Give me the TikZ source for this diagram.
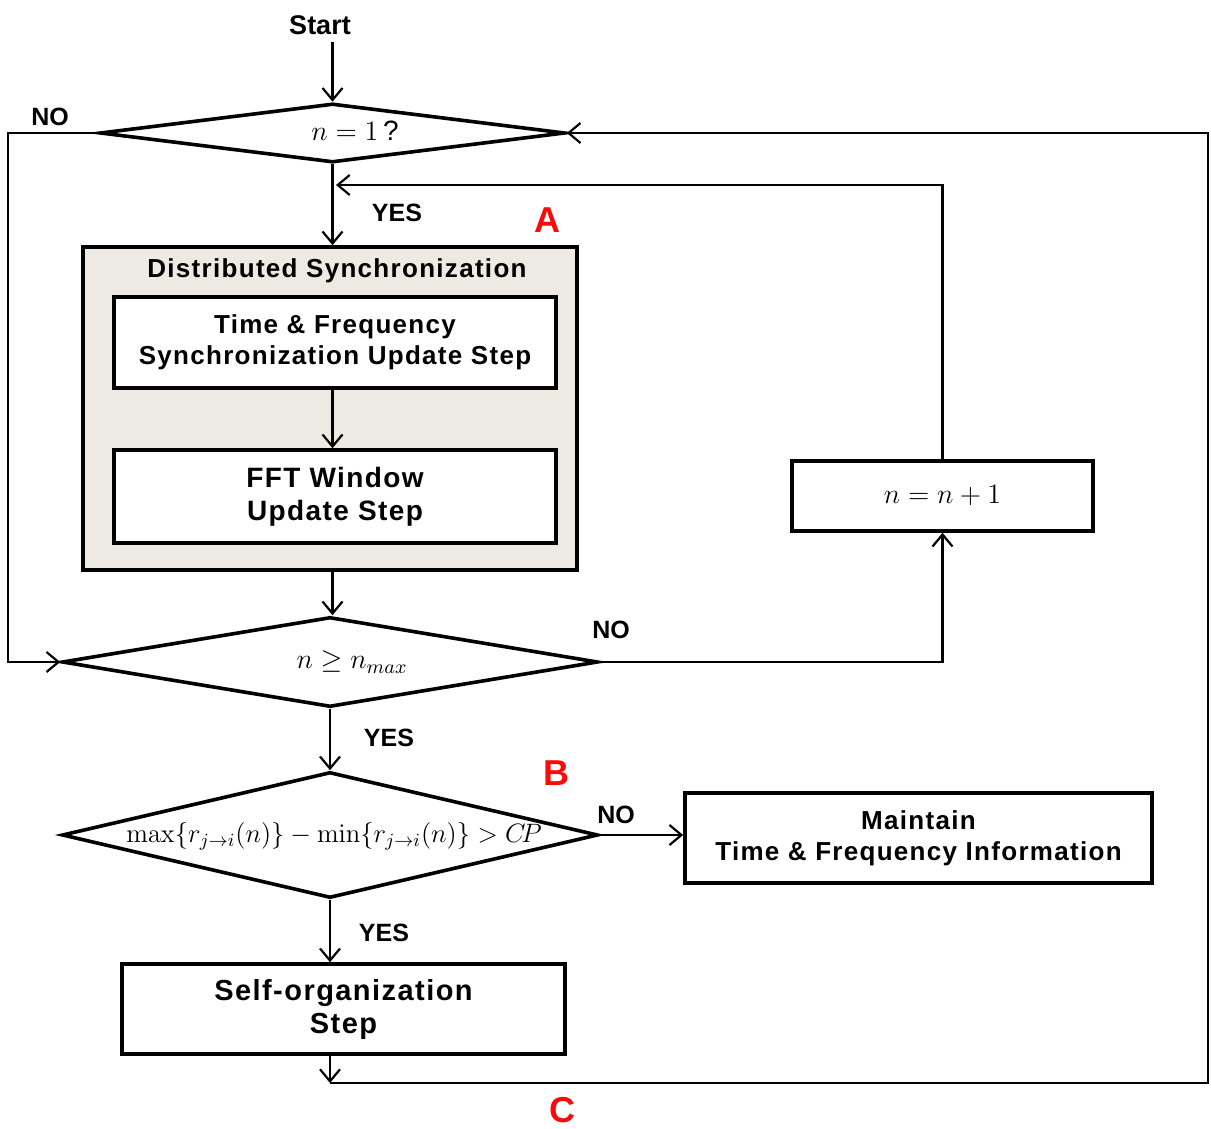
\RequirePackage{fix-cm}
\documentclass[tikz,border=0pt]{standalone}
\usepackage[no-math]{fontspec}
\setmainfont{Liberation Sans}
\newfontfamily\boxfont{Liberation Sans}[LetterSpace=5]
\usetikzlibrary{arrows.meta,shapes.geometric}
\definecolor{panel}{RGB}{236,234,226}
\definecolor{tagred}{RGB}{250,10,10}
\begin{document}
\begin{tikzpicture}[x=0.5pt,y=-0.5pt,line join=miter,
  flow/.style={line width=1.1pt,-{Straight Barb[length=6pt,width=10pt,line width=1.1pt]}},
  stepbox/.style={draw,line width=1.8pt,fill=white,inner sep=0pt,font=\boxfont\fontsize{13}{15.5}\selectfont\bfseries,align=center},
  dec/.style={diamond,draw,line width=1.8pt,inner sep=0pt,fill=white},
  lbl/.style={font=\fontsize{12.5}{15}\selectfont\bfseries},
  tag/.style={text=tagred,font=\fontsize{18}{20}\selectfont\bfseries},
  mtxt/.style={font=\fontsize{14}{16}\selectfont}
]
\useasboundingbox (0,0) rectangle (1211,1129);

% start and first test
\node[font=\fontsize{13.5}{16}\selectfont\bfseries] (start) at (320,25) {Start};
\node[dec,minimum width=232.5pt,minimum height=29.5pt] (d1) at (332.5,133) {};
\node[mtxt] (t1) at (355,131) {$n = 1\,$?};

% distributed synchronization block
\node[draw,line width=1.8pt,fill=panel,inner sep=0pt,minimum width=247pt,minimum height=161.5pt] (ds) at (330,408.5) {};
\node[font=\boxfont\fontsize{13}{15.5}\selectfont\bfseries] (dstitle) at (337,271) {Distributed Synchronization};
\node[stepbox,minimum width=221pt,minimum height=45.5pt] (tf) at (335,342.5) {Time \& Frequency\\Synchronization Update Step};
\node[stepbox,minimum width=221pt,minimum height=46.5pt,font=\boxfont\fontsize{14}{16.5}\selectfont\bfseries] (fft) at (335,496.5) {FFT Window\\Update Step};

% iteration test and counter
\node[dec,minimum width=268pt,minimum height=45pt] (d2) at (330,662) {};
\node[mtxt] (t2) at (352,662) {$n \geq n_{max}$};
\node[stepbox,minimum width=150.5pt,minimum height=35pt] (inc) at (942.5,496) {};
\node[mtxt] (tinc) at (inc) {$n = n + 1$};

% spread test
\node[dec,minimum width=268pt,minimum height=63pt] (d3) at (330,835) {};
\node[mtxt,font=\fontsize{13.3}{16}\selectfont] (t3) at (334,836) {$\max\{r_{j\to i}(n)\} - \min\{r_{j\to i}(n)\} > C\!P$};
\node[stepbox,minimum width=233.5pt,minimum height=45pt] (keep) at (918.5,838) {Maintain\\Time \& Frequency Information};
\node[stepbox,minimum width=221.5pt,minimum height=45pt,font=\boxfont\fontsize{14.5}{16.5}\selectfont\bfseries] (self) at (343.5,1009) {Self-organization\\Step};

% helper points
\coordinate (j1) at (336,185);
\coordinate (c1) at (330,1083);
\coordinate (c2) at (1208,1083);

% connectors
\draw[flow] (d1.north |- start.south) -- (d1.north);
\draw[flow] (d1.south) -- (d1.south |- ds.north);
\draw[flow] (inc.north) |- (j1);
\draw[flow] (tf.south -| d1.south) -- (fft.north -| d1.south);
\draw[flow] (ds.south -| d1.south) -- (d1.south |- d2.north);
\draw[flow] (d1.west) -- ++(-90,0) |- (d2.west);
\draw[flow] (d2.east) -| (inc.south);
\draw[flow] (d2.south) -- (d3.north);
\draw[flow] (d3.east) -- (keep.west |- d3.east);
\draw[flow] (d3.south) -- (d3.south |- self.north);
\draw[flow] (c1 |- self.south) -- (c1);
\draw[flow] (c1) -- (c2) |- (d1.east);

% labels
\node[lbl] (no1) at (50,117) {NO};
\node[lbl] (yes1) at (397,213) {YES};
\node[lbl] (no2) at (611,630) {NO};
\node[lbl] (yes2) at (389,738) {YES};
\node[lbl] (no3) at (616,815) {NO};
\node[lbl] (yes3) at (384,933) {YES};
\node[tag] (tA) at (547,220) {A};
\node[tag] (tB) at (556,773) {B};
\node[tag] (tC) at (562,1110) {C};
\end{tikzpicture}
\end{document}
